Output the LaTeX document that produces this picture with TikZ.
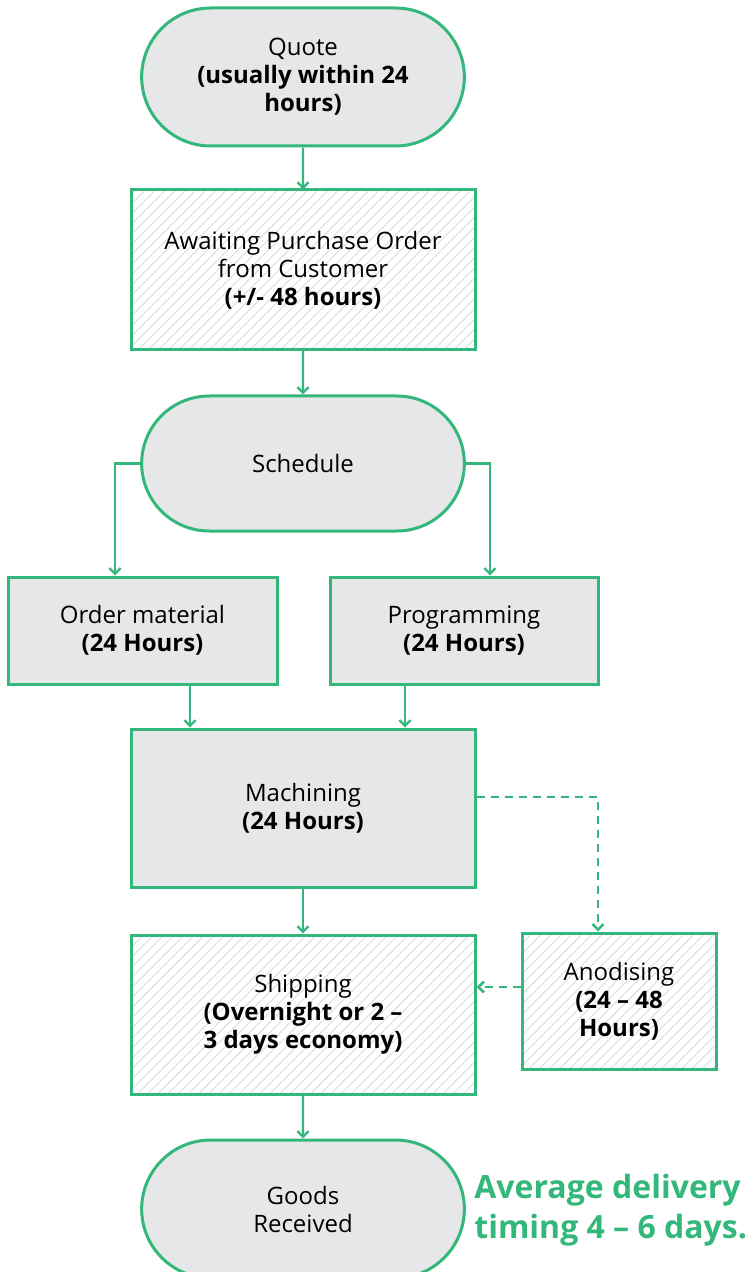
\documentclass[tikz,border=0pt]{standalone}
\usepackage{fontspec}
\setmainfont{Open Sans}
\usetikzlibrary{shapes.misc,arrows.meta,patterns.meta}
\definecolor{flowgreen}{HTML}{34B77A}
\definecolor{flowgrey}{HTML}{E6E7E8}
\colorlet{hatch}{black!14}
\tikzset{
  base/.style={draw=flowgreen,line width=1.5pt,align=center,
    font=\fontsize{12}{14}\selectfont},
  terminal/.style={base,rounded rectangle,fill=flowgrey,
    minimum width=168pt,minimum height=69pt},
  stage/.style={base,rectangle,fill=flowgrey,minimum width=172pt,minimum height=79pt},
  waiting/.style={base,rectangle,
    pattern={Lines[angle=45,distance=3.6pt,line width=0.45pt]},pattern color=hatch,
    minimum width=172pt,minimum height=80pt},
  flow/.style={draw=flowgreen,line width=1.2pt,-{Straight Barb[length=2.8pt,width=5.5pt]}},
  option/.style={flow,line width=1.3pt,dash pattern=on 4pt off 3pt},
}

\begin{document}
\begin{tikzpicture}[x=0.5pt,y=-0.5pt]
      \useasboundingbox (0,0) rectangle (749,1272);
      \node [terminal] at (303,77) (quote) {Quote\\\textbf{(usually within 24}\\\textbf{hours)}};
      \node [waiting] at (303,270) (await) {Awaiting Purchase Order\\from Customer\\\textbf{(+/- 48 hours)}};
      \node [terminal,minimum height=67.5pt] at (303,463.5) (sched) {Schedule};
      \node [stage,minimum width=134.5pt,minimum height=53.5pt] at (142.5,630.5) (order) {Order material\\\textbf{(24 Hours)}};
      \node [stage,minimum width=134pt,minimum height=53.5pt] at (464,630.5) (prog) {Programming\\\textbf{(24 Hours)}};
      \node [stage] at (303,808) (mach) {Machining\\\textbf{(24 Hours)}};
      \node [waiting,minimum height=79.5pt] at (303,1014.5) (ship) {Shipping\\\textbf{(Overnight or 2 –}\\\textbf{3 days economy)}};
      \node [waiting,minimum width=97pt,minimum height=68pt] at (619,1001) (anod) {Anodising\\\textbf{(24 – 48}\\\textbf{Hours)}};
      \node [terminal] at (303,1209) (goods) {Goods\\Received};
      \node [anchor=west,align=left,text=flowgreen,inner sep=0pt,
        font=\fontsize{16}{20}\selectfont\bfseries] at (474,1210) (timing) {Average delivery\\timing 4 – 6 days.};

      \draw [flow] (quote) -- (await) ;
      \draw [flow] (await) -- (sched) ;
      \draw [flow] (sched.west) -| ([xshift=-13.75pt]order.north) ;
      \draw [flow] (sched.east) -| ([xshift=13pt]prog.north) ;
      \draw [flow] ([xshift=23.75pt]order.south) -- ([xshift=23.75pt]order.south |- mach.north) ;
      \draw [flow] ([xshift=-29.5pt]prog.south) -- ([xshift=-29.5pt]prog.south |- mach.north) ;
      \draw [flow] (mach) -- (ship) ;
      \draw [option] ([yshift=5.5pt]mach.east) -| ([xshift=-10.5pt]anod.north) ;
      \draw [option] ([yshift=7pt]anod.west) -- ([yshift=7pt]anod.west -| ship.east) ;
      \draw [flow] (ship) -- (goods) ;
    \end{tikzpicture}
\end{document}
